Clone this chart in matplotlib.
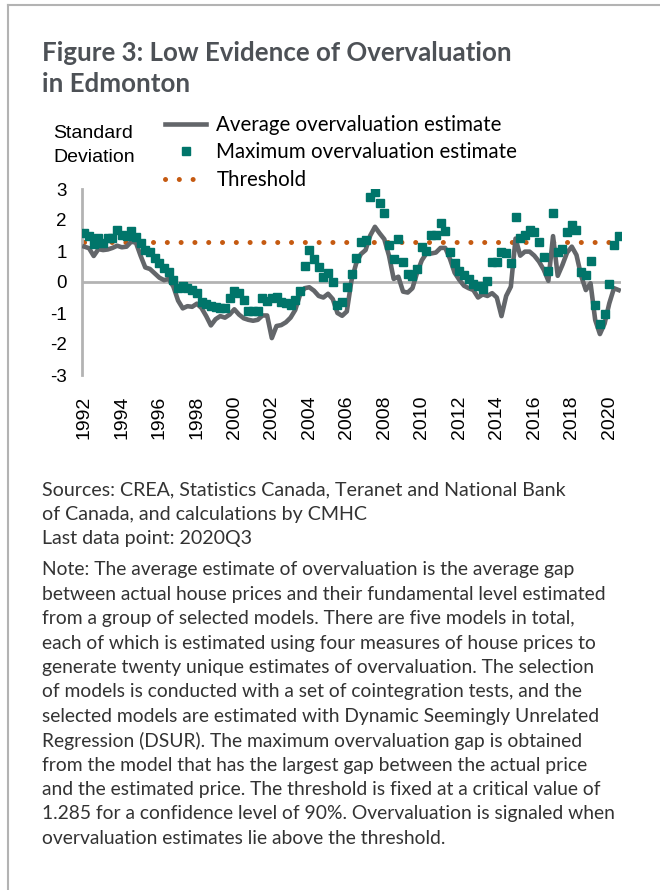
import matplotlib
matplotlib.use("Agg")
import matplotlib.pyplot as plt
import numpy as np

# quarterly, 1992Q1 .. 2020Q3
quarters = [f"{y}Q{q}" for y in range(1992, 2021) for q in range(1, 5)][:115]

avg_est = [1.14, 1.09, 0.84, 1.06, 1.03, 1.05, 1.10, 1.17, 1.12, 1.14,
           1.30, 1.27, 0.85, 0.47, 0.42, 0.28, 0.14, 0.06, 0.10, -0.15,
           -0.60, -0.85, -0.78, -0.80, -0.70, -0.84, -1.10, -1.40, -1.20, -1.10,
           -1.15, -1.05, -0.88, -1.05, -1.17, -1.22, -1.25, -1.22, -1.08, -1.08,
           -1.81, -1.42, -1.39, -1.30, -1.15, -0.90, -0.42, -0.20, -0.17, -0.28,
           -0.45, -0.50, -0.38, -0.55, -1.00, -1.09, -0.95, 0.05, 0.60, 0.90,
           1.03, 1.50, 1.78, 1.57, 1.38, 0.85, 0.10, 0.17, -0.31, -0.34,
           -0.20, 0.30, 0.70, 0.93, 0.92, 0.95, 1.10, 1.10, 0.75, 0.30,
           0.07, -0.12, -0.20, -0.26, -0.50, -0.40, -0.45, -0.36, -0.50, -1.10,
           -0.45, -0.15, 1.40, 0.85, 0.98, 0.98, 0.85, 0.66, 0.40, 0.04,
           1.48, 0.20, 0.55, 0.95, 1.14, 0.87, 0.20, -0.26, -0.04, -1.23,
           -1.68, -1.34, -0.69, -0.20, -0.26]

max_est = [1.57, 1.49, 1.23, 1.41, 1.27, 1.41, 1.43, 1.68, 1.52, 1.48,
           1.65, 1.46, 1.27, 1.03, 0.96, 0.79, 0.60, 0.44, 0.31, 0.06,
           -0.20, -0.13, -0.20, -0.26, -0.34, -0.63, -0.70, -0.78, -0.82, -0.85,
           -0.85, -0.50, -0.30, -0.35, -0.58, -0.93, -0.93, -0.93, -0.53, -0.60,
           -0.50, -0.47, -0.63, -0.69, -0.74, -0.58, -0.28, 0.51, 1.03, 0.73,
           0.47, 0.15, 0.28, 0.01, -0.74, -0.64, -0.15, 0.26, 0.78, 1.30,
           1.36, 2.75, 2.91, 2.56, 2.22, 1.20, 0.75, 1.38, 0.66, 0.26,
           0.20, 0.42, 1.12, 1.01, 1.53, 1.53, 1.89, 1.66, 0.98, 0.60,
           0.36, 0.23, 0.09, -0.06, -0.13, -0.24, 0.04, 0.66, 0.66, 0.98,
           0.93, 0.62, 2.11, 1.41, 1.52, 1.68, 1.62, 1.30, 0.82, 0.36,
           2.22, 0.98, 1.06, 1.61, 1.84, 1.68, 0.33, 0.23, 0.69, -0.74,
           -1.35, -1.03, -0.06, 1.20, 1.50]

threshold = 1.285

title_lines = ["Figure 3: Low Evidence of Overvaluation", "in Edmonton"]
note_lines = [
    "Sources: CREA, Statistics Canada, Teranet and National Bank",
    "of Canada, and calculations by CMHC",
    "Last data point: 2020Q3",
]
note_lines2 = [
    "Note: The average estimate of overvaluation is the average gap",
    "between actual house prices and their fundamental level estimated",
    "from a group of selected models. There are five models in total,",
    "each of which is estimated using four measures of house prices to",
    "generate twenty unique estimates of overvaluation. The selection",
    "of models is conducted with a set of cointegration tests, and the",
    "selected models are estimated with Dynamic Seemingly Unrelated",
    "Regression (DSUR). The maximum overvaluation gap is obtained",
    "from the model that has the largest gap between the actual price",
    "and the estimated price. The threshold is fixed at a critical value of",
    "1.285 for a confidence level of 90%. Overvaluation is signaled when",
    "overvaluation estimates lie above the threshold.",
]

W, H = 660, 890
fig = plt.figure(figsize=(W / 100, H / 100), dpi=100)

GREY = "#63666a"
TEAL = "#00756a"
ORANGE = "#c55a11"
AXIS = "#b3b3b3"

# frame lines (left and top)
fig.add_artist(plt.Line2D([8 / W, 8 / W], [0, 1 - 5 / H], color=AXIS, lw=1.5))
fig.add_artist(plt.Line2D([8 / W, 1], [1 - 5 / H, 1 - 5 / H], color=AXIS, lw=1.5))

# title
fig.text(42 / W, 1 - 53 / H, title_lines[0], fontsize=18.6, fontweight="bold",
         family="Lato", color="#4d5156", va="center")
fig.text(42 / W, 1 - 84 / H, title_lines[1], fontsize=18.6, fontweight="bold",
         family="Lato", color="#4d5156", va="center")

# axis title
fig.text(53 / W, 1 - 134 / H, "Standard", fontsize=14, family="Liberation Sans", va="center")
fig.text(53 / W, 1 - 157 / H, "Deviation", fontsize=14, family="Liberation Sans", va="center")

x = np.arange(len(quarters))
ax = fig.add_axes([82 / W, 1 - 375 / H, 539 / W, 186 / H])
ax.set_xlim(-0.5, len(quarters) - 0.5)
ax.set_ylim(-3, 3)

ax.axhline(0, color=AXIS, lw=2, zorder=1)
l_avg, = ax.plot(x, avg_est, color=GREY, lw=3.3, solid_joinstyle="round", zorder=3,
                 label="Average overvaluation estimate")
l_max, = ax.plot(x, max_est, ls="none", marker="s", ms=5.6, color=TEAL, mec=TEAL, zorder=4,
                 label="Maximum overvaluation estimate")
l_thr, = ax.plot(x, [threshold] * len(x), color=ORANGE, lw=3.6, ls=(0, (0.01, 2.75)),
                 dash_capstyle="round", zorder=2, label="Threshold")

for s in ["top", "right", "bottom"]:
    ax.spines[s].set_visible(False)
ax.spines["left"].set_color(AXIS)
ax.spines["left"].set_linewidth(2)

ax.set_yticks(range(-3, 4))
ax.set_yticklabels([str(v) for v in range(-3, 4)], family="Liberation Sans", fontsize=13.5)
ax.tick_params(axis="y", length=0, pad=11)
ax.set_xticks(x[::8])
ax.set_xticklabels([q[:4] for q in quarters[::8]], rotation=90, family="Liberation Sans",
                   fontsize=14)
ax.tick_params(axis="x", length=0, pad=15)

fig.legend(handles=[l_avg, l_max, l_thr], loc="upper left",
           bbox_to_anchor=(165 / W, 1 - 115 / H), frameon=False,
           prop={"family": "Lato", "size": 14.8}, handlelength=2.0,
           handletextpad=0.5, labelspacing=0.36, borderpad=0, borderaxespad=0)

# sources and note
y0 = 490
for i, t in enumerate(note_lines):
    fig.text(42 / W, 1 - (y0 + i * 24.4) / H, t, fontsize=14.1, family="Lato",
             color="#333333", va="center")
y1 = 570
for i, t in enumerate(note_lines2):
    fig.text(42 / W, 1 - (y1 + i * 24.4) / H, t, fontsize=13.9, family="Lato",
             color="#333333", va="center")

fig.savefig("out.png", dpi=100)
